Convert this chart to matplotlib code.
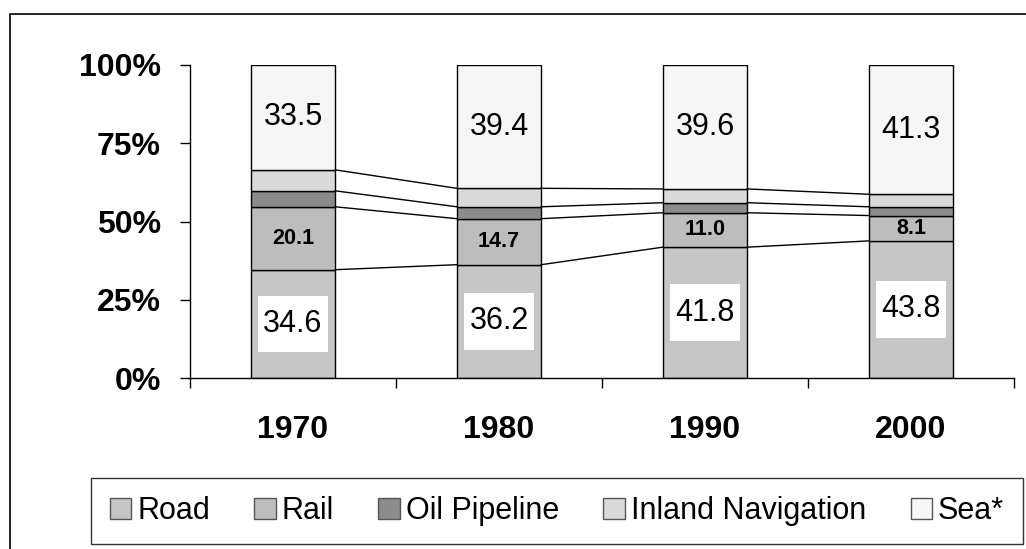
import matplotlib.pyplot as plt
from matplotlib.patches import Rectangle, Patch
import numpy as np

plt.rcParams['font.family'] = ['Liberation Sans', 'DejaVu Sans']

years = ['1970', '1980', '1990', '2000']
modes = ['Road', 'Rail', 'Oil Pipeline', 'Inland Navigation', 'Sea*']

# shares in %
road = [34.6, 36.2, 41.8, 43.8]
rail = [20.1, 14.7, 11.0, 8.1]
oil = [5.1, 3.8, 3.2, 2.8]
inland = [6.7, 5.9, 4.4, 4.0]
sea = [33.5, 39.4, 39.6, 41.3]

colors = ['#c6c6c6', '#bdbdbd', '#8c8c8c', '#dadada', '#f6f6f6']

fig = plt.figure(figsize=(10.26, 5.49), dpi=100)
ax = fig.add_axes([190/1026, 171/549, 824/1026, 313/549])

x = np.arange(len(years))
w = 0.41
series = [road, rail, oil, inland, sea]
bottom = np.zeros(len(years))
tops = []
for vals, c in zip(series, colors):
    ax.bar(x, vals, w, bottom=bottom, color=c, edgecolor='black', linewidth=1)
    bottom = bottom + np.array(vals)
    tops.append(bottom.copy())

# series lines between bars
for lvl in tops[:4]:
    for i in range(len(years) - 1):
        ax.plot([x[i] + w/2, x[i+1] - w/2], [lvl[i], lvl[i+1]], color='black', lw=1)

# labels
bw, bh = 0.34, 18.0
for i in range(len(years)):
    ax.add_patch(Rectangle((x[i] - bw/2, road[i]/2 - bh/2), bw, bh, fc='white', ec='none', zorder=3))
    ax.text(x[i], road[i]/2, f'{road[i]:.1f}', ha='center', va='center', fontsize=22, zorder=4)
    ax.text(x[i], road[i] + rail[i]/2, f'{rail[i]:.1f}', ha='center', va='center',
            fontsize=15.5, fontweight='bold')
    ax.text(x[i], 100 - sea[i]/2, f'{sea[i]:.1f}', ha='center', va='center', fontsize=22)

ax.set_xlim(-0.5, 3.5)
ax.set_ylim(0, 100)
ax.set_yticks([0, 25, 50, 75, 100])
ax.set_yticklabels(['0%', '25%', '50%', '75%', '100%'], fontsize=23, fontweight='bold')
ax.set_xticks(x)
ax.set_xticklabels(years, fontsize=23, fontweight='bold')
ax.set_xticks(np.arange(-0.5, 4, 1), minor=True)
ax.tick_params(axis='x', which='major', length=0, pad=27)
ax.tick_params(axis='x', which='minor', length=7, direction='out', width=1)
ax.tick_params(axis='y', length=7, direction='out', width=1, pad=14)
for s in ['top', 'right']:
    ax.spines[s].set_visible(False)
ax.spines['left'].set_linewidth(1)
ax.spines['bottom'].set_linewidth(1)

handles = [Patch(facecolor=c, edgecolor='#555555', linewidth=1) for c in colors]
leg = fig.legend(handles, modes, loc='center', bbox_to_anchor=(557/1026, 1 - 511/549),
                 ncol=5, fontsize=22, frameon=True, fancybox=False, edgecolor='black',
                 handlelength=0.7, handleheight=0.7, handletextpad=0.2,
                 columnspacing=1.45, borderpad=0.6)
leg.get_frame().set_linewidth(1)

fig.patches.append(Rectangle((10/1026, -0.02), 1.02, 1.02 - 14/549,
                             transform=fig.transFigure, fill=False, ec='black', lw=1.2))

fig.savefig('out.png', dpi=100)
